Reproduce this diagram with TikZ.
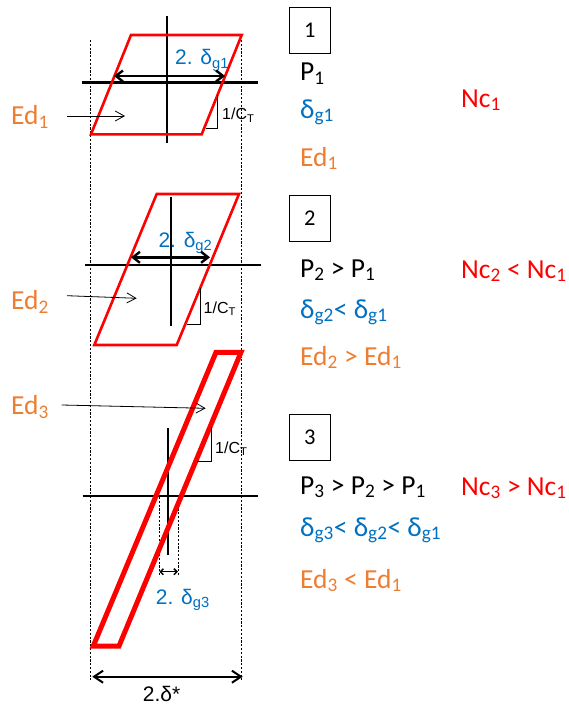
\documentclass[tikz,border=0pt]{standalone}
\usepackage{fontspec}
\setmainfont{Carlito}
\newfontfamily\arialfont{Liberation Sans}
\usetikzlibrary{arrows.meta}
\definecolor{refblue}{HTML}{0070C0}
\definecolor{reforange}{HTML}{ED7D31}
\definecolor{refred}{HTML}{FF0000}

\begin{document}
\begin{tikzpicture}[x=1pt,y=-1pt,
  axisline/.style={line width=2.4pt},
  plate/.style={draw=refred,line width=2.6pt,line join=miter},
  guide/.style={line width=0.6pt,dash pattern=on 2.2pt off 1.6pt},
  span/.style={line width=2.4pt,
    {Straight Barb[length=7pt,width=11pt]}-{Straight Barb[length=7pt,width=11pt]}},
  pointer/.style={line width=0.8pt,-{Straight Barb[length=9pt,width=10pt]}},
  slope/.style={line width=0.9pt},
  txt/.style={anchor=base west,inner sep=0pt,font=\fontsize{27.5}{30}\selectfont},
  spanlabel/.style={anchor=base west,inner sep=0pt,font=\arialfont\fontsize{21}{24}\selectfont},
  ratio/.style={anchor=base west,inner sep=0pt,font=\arialfont\fontsize{16}{18}\selectfont},
  stepno/.style={draw,line width=0.9pt,minimum width=40.7pt,minimum height=46pt,
    inner sep=0pt,font=\fontsize{22.5}{25}\selectfont}]
  \useasboundingbox (0,0) rectangle (569,706);

  \draw[guide] (90.7,40) -- (90.7,680);
  \draw[guide] (241.7,40) -- (241.7,680);
  \draw[guide] (159.3,497) -- (159.3,575);
  \draw[guide] (178,497) -- (178,575);

  \draw[axisline] (166.7,16) -- (166.7,143);
  \draw[axisline] (81.7,82.7) -- (258,82.7);
  \draw[axisline] (170.7,196.7) -- (170.7,325.7);
  \draw[axisline] (85,265) -- (261,265);
  \draw[axisline] (167.7,428.3) -- (167.7,555);
  \draw[axisline] (82.7,496) -- (258.3,496);

  \node[spanlabel,text=refblue] (dg1span) at (175,65) {2. δ\textsubscript{g1}};
  \node[spanlabel,text=refblue] (dg2span) at (158.3,247.7) {2. δ\textsubscript{g2}};
  \node[spanlabel,text=refblue] (dg3span) at (155.7,604) {2. δ\textsubscript{g3}};
  \node[spanlabel] (dstar) at (142.7,701.7) {2.δ*};

  \draw[plate] (131,35) -- (241.7,35) -- (201.7,134.3) -- (91,134.3) -- cycle;
  \draw[plate] (156.7,194) -- (239,194) -- (176.7,345) -- (94.3,345) -- cycle;
  \draw[plate,line width=5pt] (216,352.3) -- (241,352.3) -- (119,646) -- (93.3,646) -- cycle;

  \draw[span] (114,76) -- (225,76);
  \draw[span] (131,257.3) -- (210,257.3);
  \draw[line width=1.5pt,{Straight Barb[length=3pt,width=6pt]}-{Straight Barb[length=3pt,width=6pt]}]
    (159.3,571.7) -- (178,571.7);
  \draw[line width=2pt,{Straight Barb[length=9pt,width=12pt]}-{Straight Barb[length=9pt,width=12pt]}]
    (92.3,676.7) -- (242.7,676.7);

  \draw[slope] (205.7,128.3) -- (217.7,128.3) -- (217.7,95);
  \draw[slope] (186.7,324) -- (200.7,324) -- (200.7,288);
  \draw[slope] (196.7,461) -- (211,461) -- (211,427.3);
  \node[ratio] (ct1) at (222,120) {1/C\textsubscript{T}};
  \node[ratio] (ct2) at (203.5,313.3) {1/C\textsubscript{T}};
  \node[ratio] (ct3) at (215,453.3) {1/C\textsubscript{T}};

  \node[txt,text=reforange] (ed1left) at (11,124.3) {Ed\textsubscript{1}};
  \node[txt,text=reforange] (ed2left) at (11,309.3) {Ed\textsubscript{2}};
  \node[txt,text=reforange] (ed3left) at (11,414.3) {Ed\textsubscript{3}};
  \coordinate (ed1from) at (67,116);
  \coordinate (ed1to) at (125,116);
  \coordinate (ed2from) at (67,295.7);
  \coordinate (ed2to) at (136.7,298.3);
  \coordinate (ed3from) at (61.7,405);
  \coordinate (ed3to) at (205.7,408.3);
  \draw[pointer] (ed1from) -- (ed1to);
  \draw[pointer] (ed2from) -- (ed2to);
  \draw[pointer] (ed3from) -- (ed3to);

  \node[stepno] (case1) at (309.7,30.3) {1};
  \node[txt] (p1) at (300,81) {P\textsubscript{1}};
  \node[txt,text=refblue] (dg1) at (300,118) {δ\textsubscript{g1}};
  \node[txt,text=reforange] (ed1) at (300,166) {Ed\textsubscript{1}};
  \node[txt,text=refred] (nc1) at (461,107) {Nc\textsubscript{1}};

  \node[stepno] (case2) at (309.7,218.3) {2};
  \node[txt] (p2) at (300,277) {P\textsubscript{2} > P\textsubscript{1}};
  \node[txt,text=refblue] (dg2) at (300,318) {δ\textsubscript{g2}< δ\textsubscript{g1}};
  \node[txt,text=reforange] (ed2) at (300,365) {Ed\textsubscript{2} > Ed\textsubscript{1}};
  \node[txt,text=refred] (nc2) at (461,278) {Nc\textsubscript{2} < Nc\textsubscript{1}};

  \node[stepno] (case3) at (309.7,437.5) {3};
  \node[txt] (p3) at (300,494) {P\textsubscript{3} > P\textsubscript{2} > P\textsubscript{1}};
  \node[txt,text=refblue] (dg3) at (300,536) {δ\textsubscript{g3}< δ\textsubscript{g2}< δ\textsubscript{g1}};
  \node[txt,text=reforange] (ed3) at (300,588) {Ed\textsubscript{3} < Ed\textsubscript{1}};
  \node[txt,text=refred] (nc3) at (461,495) {Nc\textsubscript{3} > Nc\textsubscript{1}};
\end{tikzpicture}
\end{document}
